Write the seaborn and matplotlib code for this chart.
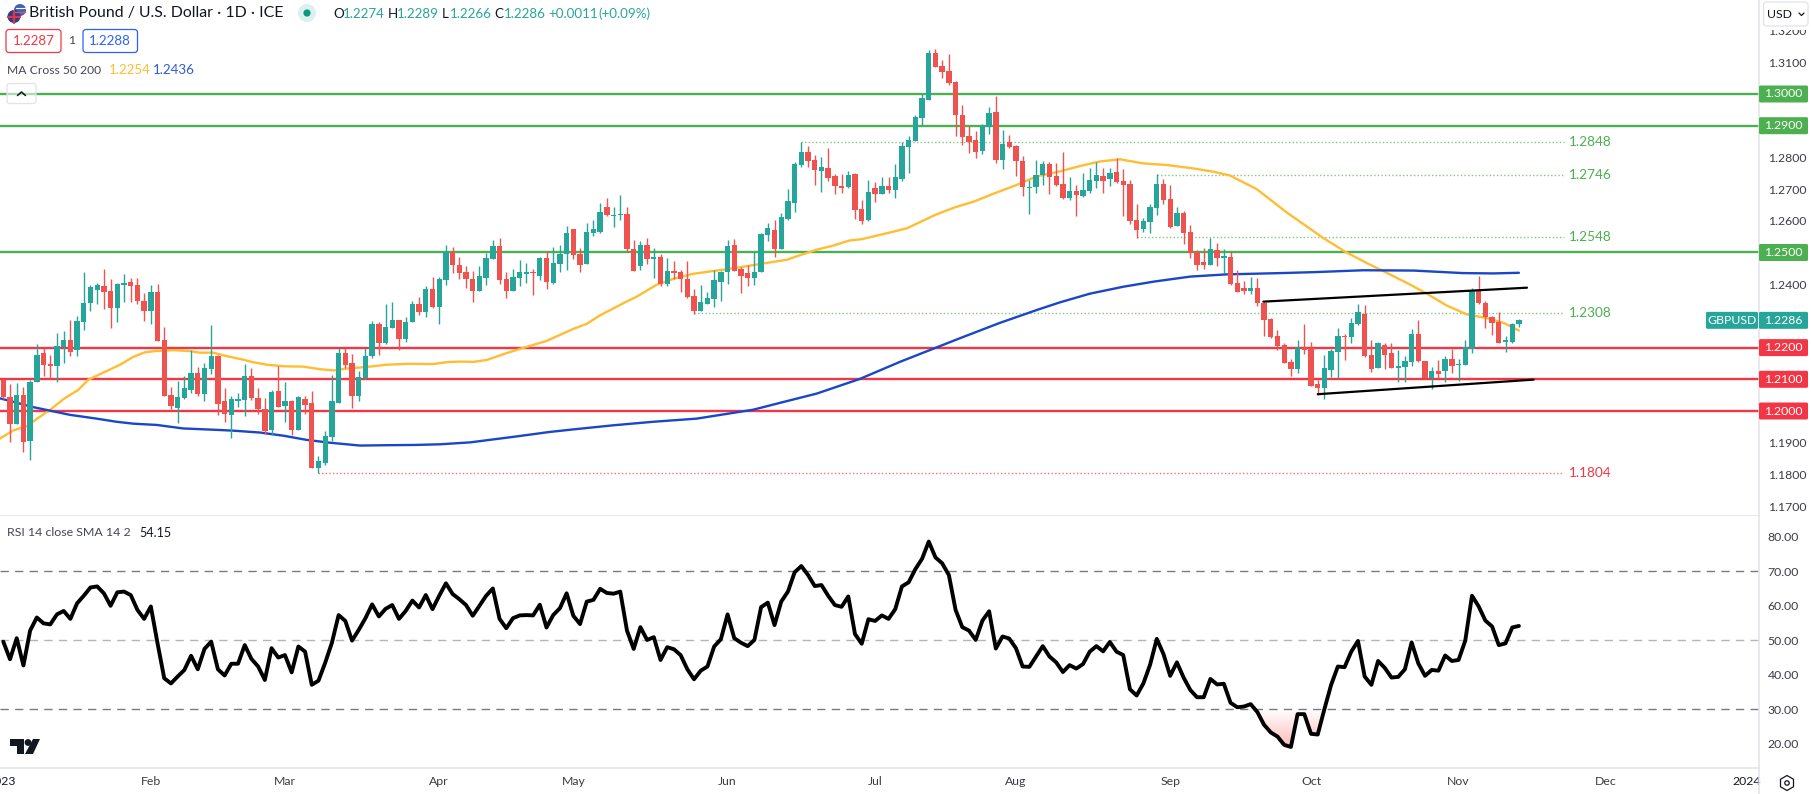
import numpy as np
import pandas as pd
import matplotlib
matplotlib.use('Agg')
import matplotlib.pyplot as plt
import matplotlib.patches as mpatches
import seaborn as sns

# Daily GBP/USD candles
opens = [1.2099, 1.2045, 1.1960, 1.2052, 1.1906, 1.2090, 1.2184, 1.2149, 1.2143, 1.2203,
         1.2225, 1.2194, 1.2282, 1.2342, 1.2383, 1.2393, 1.2380, 1.2326, 1.2399, 1.2408,
         1.2399, 1.2348, 1.2317, 1.2374, 1.2225, 1.2052, 1.2011, 1.2042, 1.2067, 1.2121,
         1.2055, 1.2131, 1.2172, 1.2030, 1.1988, 1.2033, 1.2036, 1.2112, 1.2042, 1.2007,
         1.1941, 1.2064, 1.2017, 1.2030, 1.1941, 1.2039, 1.2026, 1.1821, 1.1837, 1.1919,
         1.2026, 1.2184, 1.2153, 1.2048, 1.2105, 1.2172, 1.2276, 1.2213, 1.2263, 1.2288,
         1.2228, 1.2282, 1.2336, 1.2311, 1.2386, 1.2329, 1.2412, 1.2500, 1.2459, 1.2437,
         1.2415, 1.2377, 1.2421, 1.2481, 1.2522, 1.2415, 1.2377, 1.2421, 1.2431, 1.2440,
         1.2427, 1.2484, 1.2405, 1.2465, 1.2494, 1.2573, 1.2494, 1.2465, 1.2563, 1.2566,
         1.2642, 1.2614, 1.2617, 1.2623, 1.2510, 1.2456, 1.2525, 1.2481, 1.2487, 1.2402,
         1.2443, 1.2437, 1.2415, 1.2364, 1.2317, 1.2339, 1.2352, 1.2408, 1.2437, 1.2525,
         1.2449, 1.2434, 1.2418, 1.2437, 1.2554, 1.2570, 1.2510, 1.2607, 1.2657, 1.2776,
         1.2817, 1.2792, 1.2757, 1.2767, 1.2742, 1.2710, 1.2707, 1.2748, 1.2638, 1.2603,
         1.2704, 1.2685, 1.2710, 1.2698, 1.2732, 1.2833, 1.2852, 1.2924, 1.2981, 1.3129,
         1.3088, 1.3072, 1.3038, 1.2934, 1.2868, 1.2855, 1.2821, 1.2896, 1.2943, 1.2792,
         1.2849, 1.2836, 1.2789, 1.2704, 1.2707, 1.2745, 1.2780, 1.2742, 1.2716, 1.2672,
         1.2695, 1.2679, 1.2695, 1.2726, 1.2742, 1.2732, 1.2754, 1.2726, 1.2716, 1.2603,
         1.2575, 1.2597, 1.2641, 1.2716, 1.2669, 1.2584, 1.2625, 1.2565, 1.2502, 1.2471,
         1.2461, 1.2509, 1.2483, 1.2487, 1.2405, 1.2389, 1.2380, 1.2389, 1.2342, 1.2291,
         1.2238, 1.2209, 1.2156, 1.2134, 1.2200, 1.2200, 1.2086, 1.2071, 1.2130, 1.2187,
         1.2238, 1.2235, 1.2276, 1.2307, 1.2178, 1.2137, 1.2209, 1.2184, 1.2137, 1.2140,
         1.2156, 1.2244, 1.2159, 1.2105, 1.2127, 1.2127, 1.2165, 1.2146, 1.2146, 1.2197,
         1.2377, 1.2342, 1.2298, 1.2282, 1.2219, 1.2219, 1.2274]
highs = [1.2101, 1.2086, 1.2088, 1.2077, 1.2099, 1.2210, 1.2199, 1.2178, 1.2247, 1.2251,
         1.2288, 1.2301, 1.2437, 1.2399, 1.2405, 1.2449, 1.2415, 1.2405, 1.2431, 1.2421,
         1.2418, 1.2371, 1.2396, 1.2402, 1.2266, 1.2077, 1.2096, 1.2112, 1.2194, 1.2140,
         1.2153, 1.2270, 1.2178, 1.2074, 1.2048, 1.2058, 1.2149, 1.2137, 1.2074, 1.2042,
         1.2067, 1.2143, 1.2090, 1.2036, 1.2048, 1.2048, 1.2064, 1.1859, 1.1938, 1.2115,
         1.2200, 1.2200, 1.2181, 1.2127, 1.2200, 1.2285, 1.2282, 1.2336, 1.2345, 1.2288,
         1.2295, 1.2348, 1.2361, 1.2393, 1.2424, 1.2424, 1.2525, 1.2516, 1.2487, 1.2456,
         1.2443, 1.2456, 1.2497, 1.2538, 1.2547, 1.2440, 1.2449, 1.2475, 1.2468, 1.2449,
         1.2487, 1.2506, 1.2516, 1.2525, 1.2585, 1.2573, 1.2513, 1.2592, 1.2601, 1.2655,
         1.2671, 1.2642, 1.2680, 1.2642, 1.2541, 1.2535, 1.2547, 1.2513, 1.2494, 1.2484,
         1.2472, 1.2446, 1.2472, 1.2386, 1.2396, 1.2374, 1.2446, 1.2443, 1.2541, 1.2544,
         1.2453, 1.2459, 1.2500, 1.2563, 1.2592, 1.2601, 1.2626, 1.2699, 1.2786, 1.2849,
         1.2836, 1.2808, 1.2802, 1.2829, 1.2748, 1.2748, 1.2757, 1.2751, 1.2666, 1.2729,
         1.2723, 1.2739, 1.2739, 1.2779, 1.2849, 1.2868, 1.2934, 1.3000, 1.3139, 1.3142,
         1.3107, 1.3126, 1.3041, 1.2965, 1.2899, 1.2883, 1.2906, 1.2959, 1.2994, 1.2887,
         1.2871, 1.2839, 1.2805, 1.2729, 1.2792, 1.2789, 1.2786, 1.2783, 1.2817, 1.2739,
         1.2713, 1.2751, 1.2767, 1.2786, 1.2767, 1.2767, 1.2798, 1.2764, 1.2729, 1.2654,
         1.2609, 1.2654, 1.2748, 1.2732, 1.2713, 1.2644, 1.2631, 1.2587, 1.2509, 1.2515,
         1.2546, 1.2531, 1.2512, 1.2505, 1.2446, 1.2411, 1.2424, 1.2420, 1.2345, 1.2294,
         1.2254, 1.2216, 1.2165, 1.2225, 1.2273, 1.2219, 1.2099, 1.2178, 1.2197, 1.2263,
         1.2244, 1.2292, 1.2339, 1.2333, 1.2225, 1.2219, 1.2216, 1.2213, 1.2194, 1.2172,
         1.2260, 1.2288, 1.2159, 1.2140, 1.2162, 1.2175, 1.2197, 1.2165, 1.2225, 1.2389,
         1.2427, 1.2348, 1.2301, 1.2311, 1.2238, 1.2279, 1.2289]
lows = [1.2038, 1.1901, 1.1960, 1.1872, 1.1844, 1.2090, 1.2112, 1.2101, 1.2090, 1.2153,
        1.2172, 1.2172, 1.2257, 1.2314, 1.2336, 1.2323, 1.2263, 1.2282, 1.2345, 1.2345,
        1.2339, 1.2285, 1.2273, 1.2222, 1.2048, 1.2007, 1.1963, 1.2039, 1.2058, 1.2048,
        1.2030, 1.2118, 1.1988, 1.1966, 1.1916, 1.2014, 1.1985, 1.2036, 1.1992, 1.1928,
        1.1924, 1.2014, 1.1966, 1.1925, 1.1941, 1.1992, 1.1821, 1.1804, 1.1831, 1.1906,
        1.2026, 1.2137, 1.2011, 1.2030, 1.2102, 1.2168, 1.2178, 1.2210, 1.2263, 1.2191,
        1.2219, 1.2282, 1.2304, 1.2295, 1.2326, 1.2276, 1.2396, 1.2434, 1.2415, 1.2389,
        1.2345, 1.2377, 1.2399, 1.2481, 1.2402, 1.2355, 1.2377, 1.2393, 1.2405, 1.2367,
        1.2412, 1.2386, 1.2402, 1.2437, 1.2446, 1.2481, 1.2437, 1.2465, 1.2551, 1.2560,
        1.2614, 1.2579, 1.2604, 1.2500, 1.2443, 1.2446, 1.2465, 1.2421, 1.2393, 1.2393,
        1.2415, 1.2374, 1.2358, 1.2307, 1.2314, 1.2336, 1.2329, 1.2348, 1.2402, 1.2443,
        1.2371, 1.2393, 1.2396, 1.2437, 1.2535, 1.2487, 1.2510, 1.2601, 1.2628, 1.2770,
        1.2770, 1.2713, 1.2691, 1.2726, 1.2685, 1.2688, 1.2704, 1.2606, 1.2590, 1.2600,
        1.2660, 1.2685, 1.2688, 1.2672, 1.2726, 1.2751, 1.2852, 1.2902, 1.2981, 1.3085,
        1.3050, 1.3028, 1.2868, 1.2839, 1.2814, 1.2798, 1.2811, 1.2874, 1.2783, 1.2764,
        1.2830, 1.2742, 1.2679, 1.2622, 1.2688, 1.2713, 1.2685, 1.2710, 1.2669, 1.2666,
        1.2616, 1.2676, 1.2688, 1.2704, 1.2688, 1.2710, 1.2720, 1.2616, 1.2591, 1.2546,
        1.2565, 1.2562, 1.2619, 1.2654, 1.2578, 1.2584, 1.2528, 1.2483, 1.2446, 1.2449,
        1.2461, 1.2458, 1.2436, 1.2398, 1.2376, 1.2370, 1.2370, 1.2332, 1.2238, 1.2231,
        1.2194, 1.2153, 1.2112, 1.2121, 1.2181, 1.2080, 1.2052, 1.2039, 1.2108, 1.2105,
        1.2162, 1.2213, 1.2270, 1.2171, 1.2124, 1.2137, 1.2134, 1.2137, 1.2090, 1.2093,
        1.2143, 1.2156, 1.2105, 1.2070, 1.2105, 1.2090, 1.2121, 1.2096, 1.2146, 1.2184,
        1.2339, 1.2263, 1.2241, 1.2213, 1.2187, 1.2216, 1.2266]
closes = [1.2044, 1.1960, 1.2052, 1.1903, 1.2090, 1.2178, 1.2146, 1.2143, 1.2206, 1.2225,
          1.2187, 1.2285, 1.2342, 1.2390, 1.2396, 1.2374, 1.2326, 1.2402, 1.2405, 1.2393,
          1.2348, 1.2317, 1.2374, 1.2222, 1.2048, 1.2017, 1.2045, 1.2071, 1.2121, 1.2055,
          1.2137, 1.2172, 1.2023, 1.1992, 1.2039, 1.2039, 1.2112, 1.2042, 1.2007, 1.1938,
          1.2061, 1.2014, 1.2030, 1.1941, 1.2045, 1.2020, 1.1821, 1.1843, 1.1922, 1.2030,
          1.2184, 1.2146, 1.2048, 1.2108, 1.2175, 1.2276, 1.2216, 1.2266, 1.2288, 1.2228,
          1.2282, 1.2339, 1.2311, 1.2386, 1.2329, 1.2415, 1.2500, 1.2459, 1.2434, 1.2415,
          1.2377, 1.2427, 1.2484, 1.2522, 1.2412, 1.2377, 1.2424, 1.2437, 1.2440, 1.2434,
          1.2484, 1.2408, 1.2468, 1.2494, 1.2563, 1.2491, 1.2462, 1.2566, 1.2573, 1.2629,
          1.2617, 1.2617, 1.2623, 1.2510, 1.2443, 1.2525, 1.2481, 1.2487, 1.2402, 1.2443,
          1.2434, 1.2415, 1.2361, 1.2317, 1.2345, 1.2355, 1.2412, 1.2437, 1.2522, 1.2443,
          1.2427, 1.2418, 1.2440, 1.2557, 1.2576, 1.2510, 1.2611, 1.2661, 1.2779, 1.2817,
          1.2789, 1.2761, 1.2770, 1.2735, 1.2710, 1.2704, 1.2745, 1.2635, 1.2600, 1.2691,
          1.2685, 1.2710, 1.2698, 1.2739, 1.2836, 1.2855, 1.2928, 1.2987, 1.3129, 1.3085,
          1.3069, 1.3035, 1.2934, 1.2865, 1.2849, 1.2817, 1.2899, 1.2940, 1.2792, 1.2843,
          1.2833, 1.2789, 1.2707, 1.2707, 1.2745, 1.2780, 1.2739, 1.2713, 1.2672, 1.2695,
          1.2682, 1.2698, 1.2729, 1.2745, 1.2726, 1.2751, 1.2723, 1.2713, 1.2600, 1.2572,
          1.2600, 1.2644, 1.2716, 1.2666, 1.2581, 1.2625, 1.2562, 1.2499, 1.2461, 1.2461,
          1.2512, 1.2483, 1.2490, 1.2402, 1.2376, 1.2380, 1.2389, 1.2342, 1.2288, 1.2234,
          1.2206, 1.2153, 1.2134, 1.2200, 1.2194, 1.2080, 1.2074, 1.2137, 1.2190, 1.2238,
          1.2232, 1.2279, 1.2311, 1.2175, 1.2134, 1.2213, 1.2178, 1.2137, 1.2143, 1.2159,
          1.2244, 1.2159, 1.2105, 1.2127, 1.2118, 1.2165, 1.2143, 1.2149, 1.2203, 1.2377,
          1.2342, 1.2295, 1.2279, 1.2216, 1.2225, 1.2276, 1.2286]

# 14 day RSI, one value per candle
rsi = [49.6, 44.5, 50.6, 42.7, 52.8, 56.6, 54.9, 54.6, 57.5, 58.5,
       56.2, 60.7, 62.9, 65.3, 65.6, 63.6, 60.0, 63.9, 64.1, 63.1,
       58.8, 56.2, 59.8, 49.1, 39.0, 37.5, 39.5, 41.4, 45.5, 41.6,
       47.5, 49.6, 41.6, 39.8, 43.2, 43.2, 48.6, 44.6, 42.4, 38.5,
       47.7, 45.0, 45.7, 40.7, 48.2, 46.7, 37.1, 38.3, 43.5, 49.3,
       57.3, 55.6, 49.9, 53.0, 56.4, 60.4, 56.9, 59.1, 60.2, 56.2,
       58.5, 61.5, 59.5, 63.1, 59.0, 62.9, 66.5, 63.4, 61.9, 60.2,
       57.1, 60.0, 62.9, 65.0, 56.2, 53.5, 56.4, 57.2, 57.3, 57.2,
       60.3, 53.7, 57.3, 59.3, 63.6, 57.1, 54.7, 61.2, 61.7, 64.9,
       63.7, 63.5, 64.1, 52.8, 47.5, 53.8, 50.1, 50.9, 44.3, 48.0,
       47.4, 45.7, 41.6, 38.7, 41.2, 42.4, 48.2, 50.3, 57.5, 50.6,
       49.3, 48.3, 50.1, 59.6, 60.9, 54.4, 61.2, 64.1, 69.7, 71.5,
       68.9, 65.7, 66.0, 62.9, 60.2, 59.7, 62.7, 51.8, 49.0, 56.1,
       55.6, 57.2, 56.2, 59.0, 65.6, 66.8, 70.6, 73.6, 78.6, 74.0,
       72.3, 68.9, 58.8, 53.8, 52.8, 50.1, 55.7, 58.4, 47.6, 51.1,
       50.5, 47.7, 42.4, 42.3, 45.3, 48.3, 45.3, 43.6, 40.8, 42.8,
       41.8, 43.1, 46.7, 48.3, 46.8, 49.5, 46.7, 45.7, 35.8, 34.0,
       37.5, 42.9, 50.4, 46.0, 39.7, 43.6, 39.2, 35.6, 33.5, 33.5,
       38.8, 37.2, 37.4, 31.9, 30.6, 30.8, 31.5, 29.2, 25.5, 23.3,
       22.1, 19.7, 19.1, 28.6, 28.6, 22.9, 22.7, 30.1, 37.1, 42.4,
       42.2, 46.7, 49.8, 39.5, 37.1, 44.0, 42.0, 39.2, 39.4, 41.6,
       49.4, 43.3, 39.7, 41.4, 41.2, 45.6, 44.0, 44.3, 49.9, 62.9,
       59.8, 55.7, 54.0, 48.6, 49.1, 53.7, 54.15]

# moving averages, read at bar positions
ma50_bar = [-0.5, 1.5, 3.5, 5.2, 7, 9, 11.2, 12.7, 15, 17.4, 19.4, 21.1, 22.6, 25.4, 27.8, 29.3,
            31.3, 33.3, 35.8, 37, 39.3, 41.8, 44.7, 47.2, 49.2, 51.2, 54.2, 57.2, 60.6, 64.1,
            66.1, 68.1, 70.1, 72.1, 75.1, 78, 81, 85, 87, 89, 93, 94.4, 97.4, 99.9, 102.9,
            107.4, 110.3, 113.8, 116.8, 118.3, 121.3, 123.8, 126.2, 128, 131.2, 134.7, 138.9,
            141.7, 144.9, 147.6, 151.1, 154.1, 157.6, 160.6, 163.5, 166.5, 170, 173.5, 177.5,
            180.4, 182.9, 186.9, 191.4, 196.8, 200.3, 203.3, 205.8, 209.3, 212.2, 215.2, 218.2,
            221.2, 223.7, 226]
ma50_val = [1.1913, 1.1939, 1.1952, 1.1978, 1.2004, 1.2038, 1.2067, 1.2099, 1.2122, 1.2146, 1.2171,
            1.2185, 1.2189, 1.2192, 1.2189, 1.2184, 1.2184, 1.2173, 1.2162, 1.2155, 1.2146, 1.2141,
            1.2140, 1.2132, 1.2128, 1.2134, 1.2139, 1.2146, 1.2149, 1.2148, 1.2154, 1.2156, 1.2155,
            1.2161, 1.2183, 1.2202, 1.2221, 1.2259, 1.2275, 1.2302, 1.2346, 1.2360, 1.2398, 1.2417,
            1.2433, 1.2446, 1.2455, 1.2467, 1.2477, 1.2488, 1.2509, 1.2522, 1.2538, 1.2542, 1.2558,
            1.2576, 1.2618, 1.2641, 1.2662, 1.2685, 1.2713, 1.2740, 1.2756, 1.2773, 1.2787, 1.2794,
            1.2781, 1.2776, 1.2765, 1.2755, 1.2743, 1.2700, 1.2626, 1.2546, 1.2500, 1.2467, 1.2441,
            1.2404, 1.2371, 1.2333, 1.2305, 1.2293, 1.2278, 1.2254]
ma200_bar = [-0.5, 2, 4.5, 7, 9.9, 13.9, 16.9, 19.4, 22.9, 26.8, 31.3, 34.3, 38.3, 41.8, 45.2, 48.7,
             51.2, 53.2, 56.7, 61.6, 65.1, 69.6, 76.6, 81.5, 85, 91, 96.9, 103.4, 107.9, 111.8,
             116.8, 121.3, 127.7, 133.7, 142.7, 148.6, 154.3, 157.6, 162, 167, 171.5, 177, 182.4,
             190.4, 195.4, 202.8, 210.3, 217.7, 222.2, 226]
ma200_val = [1.2040, 1.2026, 1.2012, 1.2001, 1.1988, 1.1976, 1.1966, 1.1960, 1.1956, 1.1945, 1.1941,
             1.1938, 1.1932, 1.1922, 1.1909, 1.1900, 1.1895, 1.1891, 1.1892, 1.1893, 1.1895, 1.1901,
             1.1920, 1.1934, 1.1942, 1.1955, 1.1966, 1.1976, 1.1991, 1.2004, 1.2031, 1.2055, 1.2101,
             1.2155, 1.2230, 1.2278, 1.2320, 1.2343, 1.2370, 1.2392, 1.2408, 1.2424, 1.2431, 1.2435,
             1.2438, 1.2444, 1.2443, 1.2435, 1.2434, 1.2436]

# drawn on levels
green_levels = [1.30, 1.29, 1.25]
red_levels = [1.22, 1.21, 1.20]
dotted_levels = [1.2848, 1.2746, 1.2548, 1.2308, 1.1804]
dotted_start = [119, 172, 169, 103, 47]
upper_trend_bar = [187.9, 227.2]
upper_trend_val = [1.2345, 1.2389]
lower_trend_bar = [196, 228.2]
lower_trend_val = [1.2053, 1.2099]

price_ticks = [1.17, 1.18, 1.19, 1.20, 1.21, 1.22, 1.23, 1.24, 1.25, 1.26, 1.27, 1.28, 1.29,
               1.30, 1.31, 1.32]
rsi_ticks = [20, 30, 40, 50, 60, 70, 80]
month_ticks = [-0.2, 22, 42, 65, 85, 108, 130, 151, 174, 195, 217, 239, 260]
month_labels = ['2023', 'Feb', 'Mar', 'Apr', 'May', 'Jun', 'Jul', 'Aug', 'Sep', 'Oct', 'Nov', 'Dec', '2024']

UP = '#26a69a'
DOWN = '#ef5350'
GREEN = '#4caf50'
RED = '#f23645'
YELLOW = '#ffbd33'
BLUE = '#1a46c8'
TEXT = '#434651'
BORDER = '#e0e3eb'
W, H = 1811, 794
MAIN_BOTTOM = 516
RSI_BOTTOM = 768
AXIS_X = 1759
BAR_MIN, BAR_MAX = -0.492, 261.8
PRICE_TOP, PRICE_BOTTOM = 1.32965, 1.16688

sns.set_theme(style='white')
plt.rcParams['font.family'] = ['Lato', 'DejaVu Sans']

fig = plt.figure(figsize=(W / 100, H / 100), dpi=100, facecolor='white')
ax = fig.add_axes([0, 1 - MAIN_BOTTOM / H, AXIS_X / W, MAIN_BOTTOM / H])
ax_rsi = fig.add_axes([0, 1 - RSI_BOTTOM / H, AXIS_X / W, (RSI_BOTTOM - MAIN_BOTTOM) / H])

# candles sit on top of the levels and averages
bars = np.arange(len(closes))
candles = pd.DataFrame({'bar': bars, 'open': opens, 'high': highs, 'low': lows, 'close': closes})
candles['color'] = np.where(candles['close'] >= candles['open'], UP, DOWN)
ax.vlines(candles['bar'], candles['low'], candles['high'], colors=candles['color'], lw=1.0, zorder=6)
ax.bar(candles['bar'], (candles['close'] - candles['open']).abs(),
       bottom=candles[['open', 'close']].min(axis=1), width=0.8, color=candles['color'], lw=0, zorder=6)

# horizontal levels
for lvl in green_levels:
    ax.axhline(lvl, color=GREEN, lw=1.7, zorder=3)
for lvl in red_levels:
    ax.axhline(lvl, color=RED, lw=1.7, zorder=3)
for lvl, start in zip(dotted_levels, dotted_start):
    col = RED if lvl < 1.19 else GREEN
    ax.plot([start, 232.7], [lvl, lvl], color=col, lw=1.0, ls=(0, (1, 1.6)), alpha=0.7, zorder=2)
    ax.text(233.5, lvl, f'{lvl:.4f}', color=col, fontsize=9.8, va='center', ha='left')

# moving averages
ma50 = pd.DataFrame({'bar': ma50_bar, 'price': ma50_val})
ma200 = pd.DataFrame({'bar': ma200_bar, 'price': ma200_val})
sns.lineplot(data=ma50, x='bar', y='price', color=YELLOW, lw=1.7, ax=ax, sort=False, estimator=None, zorder=5)
sns.lineplot(data=ma200, x='bar', y='price', color=BLUE, lw=1.7, ax=ax, sort=False, estimator=None, zorder=5)

# trend lines
ax.plot(upper_trend_bar, upper_trend_val, color='black', lw=1.6, zorder=7)
ax.plot(lower_trend_bar, lower_trend_val, color='black', lw=1.6, zorder=7)

ax.set_xlim(BAR_MIN, BAR_MAX)
ax.set_ylim(PRICE_BOTTOM, PRICE_TOP)
ax.set_xlabel('')
ax.set_ylabel('')
ax.set_xticks([])
ax.yaxis.tick_right()
ax.set_yticks(price_ticks)
ax.set_yticklabels([f'{p:.4f}' for p in price_ticks])
ax.tick_params(axis='y', length=0, pad=6.2, labelsize=8.8, labelcolor='#3b3d45')
for name, spine in ax.spines.items():
    spine.set_visible(name == 'bottom')
    spine.set_color(BORDER)
    spine.set_linewidth(1.1)

# rsi pane
rsi_df = pd.DataFrame({'bar': bars, 'rsi': rsi})
rsi_arr = np.array(rsi)


def shade(axis, mask, level, color, far):
    # gradient fill between the line and a band limit
    poly = axis.fill_between(bars, rsi_arr, level, where=mask, interpolate=True, color='none', lw=0)
    grad = np.linspace(0, 1, 64).reshape(-1, 1)
    cmap = matplotlib.colors.LinearSegmentedColormap.from_list('fade', ['white', color])
    img = axis.imshow(grad, extent=[BAR_MIN, BAR_MAX, level, far], origin='lower', cmap=cmap,
                      aspect='auto', zorder=1)
    img.set_clip_path(poly.get_paths()[0], transform=axis.transData)


shade(ax_rsi, rsi_arr < 30, 30, '#ffb3b3', 18)
shade(ax_rsi, rsi_arr > 70, 70, '#d8efdc', 80)

ax_rsi.axhline(70, color='#787b86', lw=1, ls=(0, (6, 4.5)), zorder=2)
ax_rsi.axhline(50, color='#b2b5be', lw=1, ls=(0, (6, 4.5)), zorder=2)
ax_rsi.axhline(30, color='#787b86', lw=1, ls=(0, (6, 4.5)), zorder=2)
sns.lineplot(data=rsi_df, x='bar', y='rsi', color='black', lw=2.8, ax=ax_rsi, sort=False,
             estimator=None, zorder=4)
ax_rsi.set_xlim(BAR_MIN, BAR_MAX)
ax_rsi.set_ylim(13.0, 86.0)
ax_rsi.set_xlabel('')
ax_rsi.set_ylabel('')
ax_rsi.yaxis.tick_right()
ax_rsi.set_yticks(rsi_ticks)
ax_rsi.set_yticklabels([f'{v:.2f}' for v in rsi_ticks])
ax_rsi.tick_params(axis='y', length=0, pad=6.2, labelsize=8.8, labelcolor='#3b3d45')
ax_rsi.set_xticks(month_ticks)
ax_rsi.set_xticklabels(month_labels)
ax_rsi.tick_params(axis='x', length=0, pad=5.5, labelsize=8.8, labelcolor='#3b3d45')
for lab in ax_rsi.get_xticklabels():
    if lab.get_text() in ('2023', '2024'):
        lab.set_color('#131722')
for name, spine in ax_rsi.spines.items():
    spine.set_visible(name == 'bottom')
    spine.set_color(BORDER)
    spine.set_linewidth(1.1)

# overlay in pixel space for the header, badges and widgets
ov = fig.add_axes([0, 0, 1, 1], zorder=10)
ov.set_xlim(0, W)
ov.set_ylim(H, 0)
ov.axis('off')
ov.patch.set_alpha(0)


def price_y(p):
    return (PRICE_TOP - p) / (PRICE_TOP - PRICE_BOTTOM) * MAIN_BOTTOM


def label(x, y, txt, color=TEXT, size=9.0, **kw):
    kw.setdefault('va', 'center')
    kw.setdefault('ha', 'left')
    ov.text(x, y, txt, color=color, fontsize=size, **kw)


def badge(x0, x1, yc, txt, color):
    ov.add_patch(mpatches.FancyBboxPatch((x0, yc - 8.5), x1 - x0, 17, boxstyle='round,pad=0,rounding_size=1.5',
                                         fc=color, ec='none', zorder=5))
    label((x0 + x1) / 2, yc, txt, color='white', size=8.8, ha='center', zorder=6)


ov.plot([AXIS_X, AXIS_X], [0, H], color=BORDER, lw=1.1, zorder=1)

# top right currency selector, hides the top of the scale
ov.add_patch(mpatches.Rectangle((AXIS_X + 1, 0), W - AXIS_X, 30, fc='white', ec='none', zorder=2))
ov.add_patch(mpatches.FancyBboxPatch((1763.5, 2), 44.5, 24, boxstyle='round,pad=0,rounding_size=3',
                                     fc='white', ec=BORDER, lw=0.9, zorder=3))
label(1767, 14, 'USD', color='#131722', size=8.8, zorder=4)
ov.plot([1799, 1801.5, 1804], [13, 15.5, 13], color='#131722', lw=0.9, zorder=4)

for lvl in green_levels:
    badge(AXIS_X, 1808, price_y(lvl), f'{lvl:.4f}', GREEN)
for lvl in red_levels:
    badge(AXIS_X, 1808, price_y(lvl), f'{lvl:.4f}', RED)
badge(AXIS_X, 1808, price_y(closes[-1]), f'{closes[-1]:.4f}', UP)
badge(1706, AXIS_X - 1, price_y(closes[-1]), 'GBPUSD', UP)

# header
ov.add_patch(mpatches.Circle((20, 10), 6, fc='#3f62b5', ec='none'))
ov.plot([15, 25], [12, 12], color='#e8505b', lw=1)
ov.plot([15.5, 24.5], [8, 8], color='white', lw=0.8)
ov.add_patch(mpatches.Circle((14, 16.5), 6.5, fc='#27408b', ec='none'))
ov.plot([8, 20], [16.5, 16.5], color='#e0344a', lw=1.6)
ov.plot([14, 14], [10.5, 22.5], color='#e0344a', lw=1.6)
label(29, 13, 'British Pound / U.S. Dollar · 1D · ICE', color='#131722', size=11.4)
ov.add_patch(mpatches.Circle((307, 13), 9, fc='#dcf1ee', ec='none'))
ov.add_patch(mpatches.Circle((307, 13), 3.6, fc='#089981', ec='none'))
ohlc_text = [(333, 'O', '#131722'), (343, '1.2274', UP), (387.5, 'H', '#131722'), (397, '1.2289', UP),
             (442, 'L', '#131722'), (450, '1.2266', UP), (494, 'C', '#131722'), (503.5, '1.2286', UP),
             (548, '+0.0011', UP), (598, '(+0.09%)', UP)]
for x, txt, col in ohlc_text:
    label(x, 13.5, txt, color=col, size=9.6)

ov.add_patch(mpatches.FancyBboxPatch((6, 29.5), 55, 23, boxstyle='round,pad=0,rounding_size=3',
                                     fc='white', ec=RED, lw=0.9))
label(33.5, 41, '1.2287', color=RED, size=9.6, ha='center')
label(71.5, 41, '1', color=TEXT, size=8.8, ha='center')
ov.add_patch(mpatches.FancyBboxPatch((83, 29.5), 54.5, 23, boxstyle='round,pad=0,rounding_size=3',
                                     fc='white', ec='#2962ff', lw=0.9))
label(110, 41, '1.2288', color='#2962ff', size=9.6, ha='center')

label(7, 70, 'MA Cross 50 200', color=TEXT, size=8.7)
label(108.5, 70, '1.2254', color=YELLOW, size=9.6)
label(153, 70, '1.2436', color='#2f5bd6', size=9.6)

ov.add_patch(mpatches.FancyBboxPatch((7, 83.5), 29, 20, boxstyle='round,pad=0,rounding_size=2.5',
                                     fc=(1, 1, 1, 0.55), ec=BORDER, lw=0.9))
ov.plot([17.5, 21.5, 25.5], [95.5, 92, 95.5], color='#131722', lw=1.1)

label(7, 533, 'RSI 14 close SMA 14 2', color=TEXT, size=8.9)
label(139, 533, '54.15', color='#131722', size=9.0)

# TradingView mark
ov.add_patch(mpatches.Polygon([(10, 739), (24, 739), (24, 754), (17, 754), (17, 746), (10, 746)],
                              fc='#131722', ec='none'))
ov.add_patch(mpatches.Circle((28, 742.5), 3.4, fc='#131722', ec='none'))
ov.add_patch(mpatches.Polygon([(33, 739), (40, 739), (33, 754), (25, 754)], fc='#131722', ec='none'))

# settings icon
ov.add_patch(mpatches.RegularPolygon((1787, 783), 6, radius=7.5, fc='none', ec='#131722', lw=0.9))
ov.add_patch(mpatches.Circle((1787, 783), 2.2, fc='none', ec='#131722', lw=0.9))

fig.savefig('out.png', dpi=100)
